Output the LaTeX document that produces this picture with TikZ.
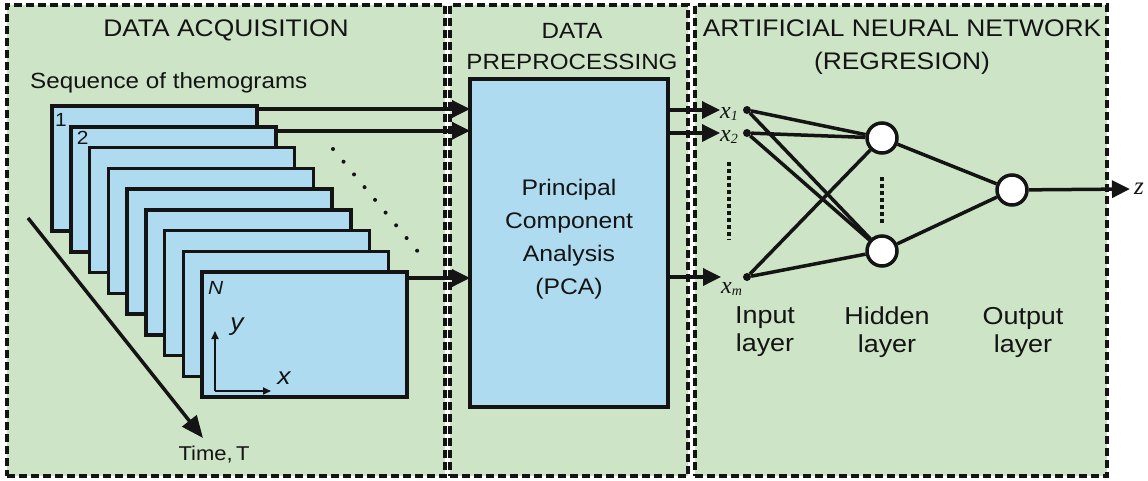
\documentclass[tikz,border=0pt]{standalone}
\usepackage{fontspec}
\setmainfont{Liberation Sans}[FakeStretch=1.1]
\newfontfamily\symserif{Liberation Serif}
\usetikzlibrary{arrows.meta,calc}
\definecolor{panelgreen}{RGB}{205,228,198}
\definecolor{frameblue}{RGB}{174,219,240}
\definecolor{ink}{RGB}{20,20,20}
\newcommand{\fs}[2]{\fontsize{#1}{#2}\selectfont}
\begin{document}
\begin{tikzpicture}[x=1pt,y=-1pt,
  panel/.style={draw=ink,fill=panelgreen,line width=3.5pt,dash pattern=on 8pt off 4pt,
    rectangle,inner sep=0pt,outer sep=0pt},
  framebox/.style={draw=ink,fill=frameblue,line width=3.5pt,rectangle,inner sep=0pt,
    minimum width=205pt,minimum height=125pt,outer sep=0pt},
  title/.style={font=\fs{24}{33},text=ink,align=center,inner sep=0pt},
  lbl/.style={text=ink,align=center,inner sep=0pt},
  conn/.style={draw=ink,line width=3.5pt,-{Triangle[length=18pt,width=17pt]}},
  nn/.style={draw=ink,line width=3.5pt},
  neuron/.style={circle,draw=ink,fill=white,line width=3.5pt,minimum size=30pt,inner sep=0pt},
  indot/.style={circle,fill=ink,minimum size=8pt,inner sep=0pt},
  sym/.style={font=\symserif\itshape\fs{24}{24},text=ink,inner sep=0pt},
  axis/.style={draw=ink,line width=1.7pt,-{Triangle[length=8pt,width=7pt]}},
  dotrow/.style={draw=ink,line width=4pt,dash pattern=on 4pt off 3pt},
]
\useasboundingbox (0,0) rectangle (1148,480);

% ---- three stages ----
\node[panel,minimum width=438pt,minimum height=471pt,anchor=north west] (acq) at (7,5) {};
\node[panel,minimum width=238pt,minimum height=471pt,anchor=north west] (pre) at (450,5) {};
\node[panel,minimum width=412pt,minimum height=471pt,anchor=north west] (ann) at (695,5) {};

\node[title] (tacq) at (226,30) {DATA ACQUISITION};
\node[title,font=\fs{22}{31}] (tpre) at (572,47) {DATA\\PREPROCESSING};
\node[title] (tann) at (902,47) {ARTIFICIAL NEURAL NETWORK\\(REGRESION)};

% ---- stack of thermograms ----
\node[lbl,font=\fs{22}{22},anchor=west] (seq) at (30,83) {Sequence of themograms};
\foreach \i in {1,...,9} {
  \pgfmathsetmacro\fx{52+18.75*(\i-1)}
  \pgfmathsetmacro\fy{106+20.75*(\i-1)}
  \node[framebox,anchor=north west] (f\i) at (\fx,\fy) {};
}
\node[font=\fs{19}{19},text=ink,anchor=north west,inner sep=0pt] (n1) at ([xshift=3pt,yshift=-7pt]f1.north west) {1};
\node[font=\fs{19}{19},text=ink,anchor=north west,inner sep=0pt] (n2) at ([xshift=6pt,yshift=-4pt]f2.north west) {2};
\node[font=\itshape\fs{19}{19},text=ink,anchor=north west,inner sep=0pt] (nN) at ([xshift=6pt,yshift=-9pt]f9.north west) {N};

% image axes inside the last frame
\coordinate (o) at (215,391);
\coordinate (ay) at (215,331);
\coordinate (ax) at (271,391);
\draw[axis] (o) -- (ay);
\draw[axis] (o) -- (ax);
\node[font=\itshape\fs{24}{24},text=ink,inner sep=0pt] (ly) at (237,327) {y};
\node[font=\itshape\fs{24}{24},text=ink,inner sep=0pt] (lx) at (284,378) {x};

% more frames follow
\draw[ink,line width=4pt,line cap=round,dash pattern=on 0pt off 16.5pt] (333,149) -- (419,253);

% time axis
\coordinate (t0) at (28,218);
\coordinate (t1) at (203,438);
\draw[draw=ink,line width=3.5pt,-{Triangle[length=22pt,width=18pt]}] (t0) -- (t1);
\node[lbl,font=\fs{20}{20}] (time) at (214,455) {Time,\,T};

% ---- PCA ----
\node[draw=ink,fill=frameblue,line width=3.5pt,minimum width=198pt,minimum height=328pt,
  anchor=north west,inner sep=0pt,outer sep=0pt] (pca) at (470,79) {};
\node[lbl,font=\fs{22.5}{33}] (pcat) at (569,239)
  {Principal\\Component\\Analysis\\(PCA)};

\coordinate (s1) at ([yshift=-3pt]f1.north east);
\coordinate (s2) at ([yshift=-4pt]f2.north east);
\coordinate (s9) at ([yshift=-6pt]f9.north east);
\draw[conn] (s1) -- (s1 -| pca.west);
\draw[conn] (s2) -- (s2 -| pca.west);
\draw[conn] (s9) -- (s9 -| pca.west);

% ---- neural network ----
\node[indot] (in1) at (747,110) {};
\node[indot] (in2) at (747,133) {};
\node[indot] (inm) at (747,277) {};
\node[sym,anchor=west] (xl1) at (720,114) {x\raisebox{-2pt}{\fs{14}{14}1}};
\node[sym,anchor=west] (xl2) at (720,137) {x\raisebox{-2pt}{\fs{14}{14}2}};
\node[sym,anchor=west] (xlm) at (721,289) {x\raisebox{-2pt}{\fs{14}{14}m}};

\draw[conn] (pca.east |- in1) -- (xl1.west |- in1);
\draw[conn] (pca.east |- in2) -- (xl2.west |- in2);
\draw[conn] (pca.east |- inm) -- (xlm.west |- inm);

\node[neuron] (h1) at (882,138) {};
\node[neuron] (h2) at (882,251) {};
\node[neuron] (out) at (1012,190) {};

\foreach \a in {in1,in2,inm} {
  \draw[nn] (\a) -- (h1);
  \draw[nn] (\a) -- (h2);
}
\draw[nn] (h1) -- (out);
\draw[nn] (h2) -- (out);

\draw[dotrow] (729,162) -- (729,240);
\draw[dotrow] (882,177) -- (882,223);

\node[sym,font=\symserif\itshape\fs{25}{25}] (z) at (1139,189) {z};
\draw[conn] (out) -- ([xshift=-4pt]z.west);

\node[lbl,font=\fs{24.5}{28}] (lin) at (765,332) {Input\\layer};
\node[lbl,font=\fs{24.5}{28}] (lhid) at (887,332) {Hidden\\layer};
\node[lbl,font=\fs{24.5}{28}] (lout) at (1023,332) {Output\\layer};
\end{tikzpicture}
\end{document}
